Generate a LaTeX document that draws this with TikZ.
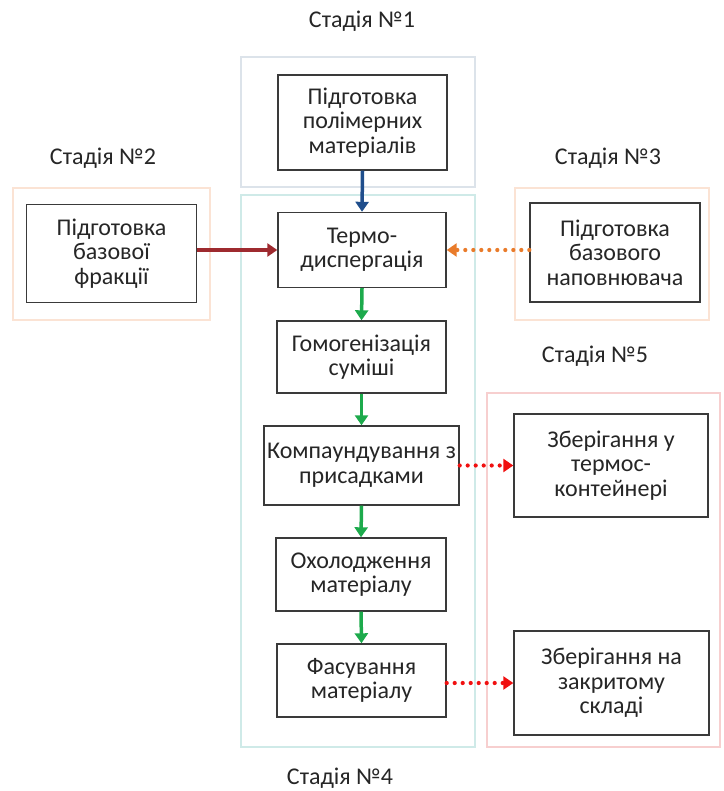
\documentclass[tikz,border=0pt]{standalone}
\usepackage{fontspec}
\setmainfont{Carlito}
\usetikzlibrary{arrows.meta}
\definecolor{frgray}{HTML}{DCE3EA}
\definecolor{frteal}{HTML}{CFEAE8}
\definecolor{frpeach}{HTML}{FBE3D4}
\definecolor{frpink}{HTML}{F7CFCF}
\definecolor{arblue}{HTML}{1F4E8C}
\definecolor{arred}{HTML}{9E2A2F}
\definecolor{arorange}{HTML}{E97B2A}
\definecolor{argreen}{HTML}{1DAA4C}
\definecolor{arbright}{HTML}{F01010}
\definecolor{boxline}{HTML}{3A3A3A}
\begin{document}
\begin{tikzpicture}[x=1pt,y=-1pt,
  txt/.style={font=\fontsize{24}{24.5}\selectfont, text=black!85},
  stagebox/.style={draw=boxline, line width=1.4pt, fill=white, align=center, inner sep=0pt, txt},
  frame/.style={line width=1.1pt},
  lbl/.style={txt, inner sep=0pt},
  solidarr/.style={line width=3.5pt, -{Triangle[length=10pt,width=13pt]}},
  dotarr/.style={line width=4.2pt, line cap=round, dash pattern=on 0pt off 8pt, -{Triangle[length=10pt,width=13pt]}}
]
\useasboundingbox (0,0) rectangle (723,791);
% frames
\draw[frame, draw=frgray] (241,57) rectangle (475,187);
\draw[frame, draw=frteal] (241,195) rectangle (475,747);
\draw[frame, draw=frpeach] (13,188) rectangle (210,320);
\draw[frame, draw=frpeach] (515,188) rectangle (709,320);
\draw[frame, draw=frpink] (487,393) rectangle (720,747);
% labels
\node[lbl] (s1) at (362,21) {Стадія №1};
\node[lbl] (s2) at (103,158) {Стадія №2};
\node[lbl] (s3) at (608,158) {Стадія №3};
\node[lbl] (s5) at (595,356) {Стадія №5};
\node[lbl] (s4) at (340,778) {Стадія №4};
% boxes
\node[stagebox, minimum width=169pt, minimum height=95pt] (poly) at (362.5,122.5) {Підготовка\\полімерних\\матеріалів};
\node[stagebox, minimum width=170pt, minimum height=98pt] (base) at (111.5,253.5) {Підготовка\\базової\\фракції};
\node[stagebox, minimum width=168pt, minimum height=75pt] (termo) at (362,250) {Термо-\\диспергація};
\node[stagebox, minimum width=170pt, minimum height=99pt] (fill) at (615,252.5) {Підготовка\\базового\\наповнювача};
\node[stagebox, minimum width=169pt, minimum height=72pt] (homo) at (361.5,357) {Гомогенізація\\суміші};
\node[stagebox, minimum width=195pt, minimum height=79pt] (comp) at (361.5,465.5) {Компаундування з\\присадками};
\node[stagebox, minimum width=194pt, minimum height=103pt] (thermo) at (611,465.5) {Зберігання у\\термос-\\контейнері};
\node[stagebox, minimum width=170pt, minimum height=73pt] (cool) at (361,574.5) {Охолодження\\матеріалу};
\node[stagebox, minimum width=169pt, minimum height=73pt] (pack) at (361.5,680.5) {Фасування\\матеріалу};
\node[stagebox, minimum width=195pt, minimum height=104pt] (store) at (611.5,683) {Зберігання на\\закритому\\складі};
% arrows
\draw[solidarr, arblue] (poly.south) -- (termo.north);
\draw[solidarr, arred] (base.east |- termo.west) -- (termo.west);
\draw[dotarr, arorange] (fill.west |- termo.east) -- (termo.east);
\draw[solidarr, argreen] (termo.south) -- (homo.north);
\draw[solidarr, argreen] (homo.south) -- (comp.north);
\draw[solidarr, argreen] (comp.south) -- (cool.north);
\draw[solidarr, argreen] (cool.south) -- (pack.north);
\draw[dotarr, arbright] (comp.east |- thermo.west) -- (thermo.west);
\draw[dotarr, arbright] (pack.east |- store.west) -- (store.west);
\end{tikzpicture}
\end{document}
